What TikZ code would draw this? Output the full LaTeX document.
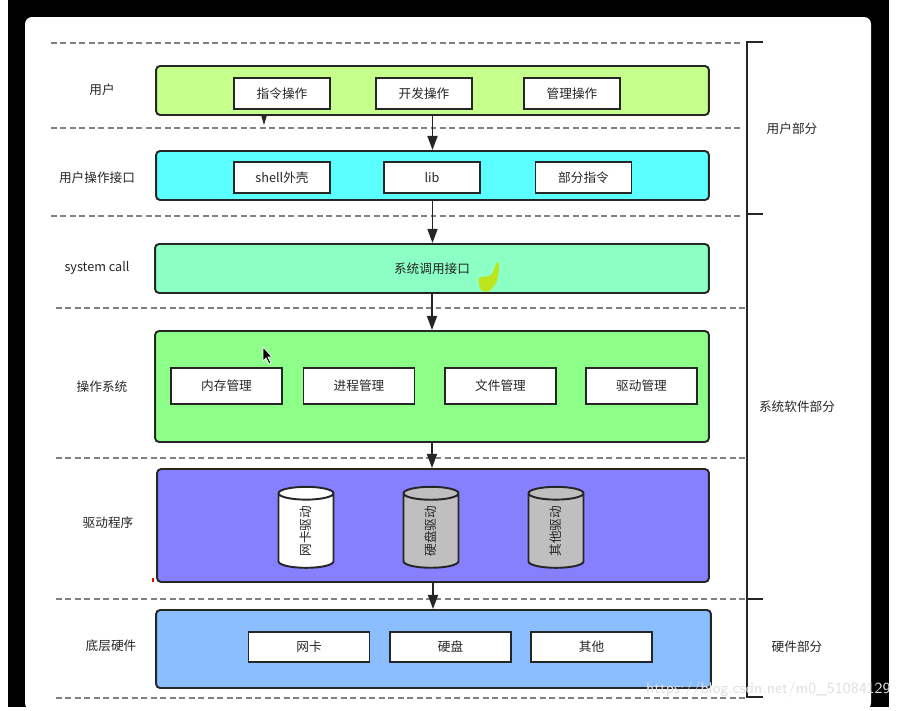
\documentclass[tikz,border=0pt]{standalone}
\usepackage{fontspec}
\newfontfamily\cjk{Noto Sans CJK SC}
\usetikzlibrary{arrows.meta,shapes.geometric}

\definecolor{usrfill}{HTML}{C6FF8C}
\definecolor{apifill}{HTML}{5CFFFF}
\definecolor{callfill}{HTML}{8CFFC4}
\definecolor{osfill}{HTML}{8DFF88}
\definecolor{drvfill}{HTML}{8680FF}
\definecolor{hwfill}{HTML}{8ABEFF}
\definecolor{inkline}{HTML}{262626}
\definecolor{scribble}{HTML}{BDE51E}

\begin{document}
\begin{tikzpicture}[x=0.02cm, y=-0.02cm,
    font=\cjk\fontsize{7.2}{9}\selectfont,
    layer/.style={rectangle, draw=inkline, line width=1.1pt, rounded corners=2.3pt, inner sep=0pt},
    item/.style={rectangle, draw=inkline, fill=white, line width=1.1pt, inner sep=0pt,
                 minimum width=1.92cm, minimum height=0.62cm, text=inkline},
    drum/.style={cylinder, rotate=90, draw=inkline, line width=1.1pt, aspect=1.1,
                 minimum width=1.1cm, minimum height=1.62cm, inner sep=0pt, text=inkline},
    flow/.style={draw=inkline, line width=1.1pt, -{Triangle[length=8pt,width=5.6pt]}},
    sep/.style={draw=black!50, line width=0.6pt, dash pattern=on 3.4pt off 2pt},
    tag/.style={text=inkline}
]
    % screenshot frame
    \useasboundingbox (0,0) rectangle (898,710);
    \fill[white] (0,0) rectangle (898,710);
    \fill[black] (8,0) rectangle (889,707);
    \fill[white, rounded corners=4pt] (25,710) -- (25,17) -- (871,17) -- (871,710) -- cycle;

    % layer separators
    \foreach \yy in {43,128,216} \draw[sep] (51,\yy) -- (742,\yy);
    \foreach \yy in {308,458,599,698} \draw[sep] (56,\yy) -- (745,\yy);

    % layers
    \node[layer, fill=usrfill, minimum width=11.06cm, minimum height=0.98cm] (usr) at (432.5,90.5) {};
    \node[layer, fill=apifill, minimum width=11.06cm, minimum height=0.98cm] (api) at (432.5,175.5) {};
    \node[layer, fill=callfill, minimum width=11.08cm, minimum height=0.98cm, text=inkline] (call) at (432,268.5) {系统调用接口};
    \node[layer, fill=osfill, minimum width=11.08cm, minimum height=2.22cm] (os) at (432,386.5) {};
    \node[layer, fill=drvfill, minimum width=11.04cm, minimum height=2.26cm] (drv) at (433,525.5) {};
    \node[layer, fill=hwfill, minimum width=11.1cm, minimum height=1.56cm] (hw) at (433.5,649) {};

    % row 1 and 2
    \node[item] (cmd) at (282,93.5) {指令操作};
    \node[item] (dev) at (424,93.5) {开发操作};
    \node[item] (mgr) at (572,93.5) {管理操作};
    \node[item] (shell) at (282,177.5) {shell外壳};
    \node[item] (lib) at (432,177.5) {lib};
    \node[item] (part) at (583.5,177.5) {部分指令};

    % operating system
    \node[item, minimum width=2.22cm, minimum height=0.72cm] (mem) at (226.5,386) {内存管理};
    \node[item, minimum width=2.22cm, minimum height=0.72cm] (proc) at (359,386) {进程管理};
    \node[item, minimum width=2.22cm, minimum height=0.72cm] (file) at (500.5,386) {文件管理};
    \node[item, minimum width=2.22cm, minimum height=0.72cm] (dmgr) at (641.5,386) {驱动管理};

    % drivers
    \node[drum, fill=white] (nicdrv) at (306,531) {网卡驱动};
    \node[drum, fill=black!25] (diskdrv) at (431,531) {硬盘驱动};
    \node[drum, fill=black!25] (otherdrv) at (556,531) {其他驱动};

    % hardware
    \node[item, minimum width=2.42cm, minimum height=0.6cm] (nic) at (309,647) {网卡};
    \node[item, minimum width=2.42cm, minimum height=0.6cm] (disk) at (450.5,647) {硬盘};
    \node[item, minimum width=2.42cm, minimum height=0.6cm] (other) at (591.5,647) {其他};

    % arrows between layers
    \draw[flow] (usr.south) -- (api.north);
    \draw[flow] (api.south) -- (api.south |- call.north);
    \draw[flow] (call.south) -- (call.south |- os.north);
    \draw[flow] (os.south) -- (os.south |- drv.north);
    \draw[flow] (drv.south) -- (drv.south |- hw.north);
    \fill[inkline] (261,115) -- (267,115) -- (264,125) -- cycle;

    % row labels
    \node[tag] (l1) at (102,90) {用户};
    \node[tag] (l2) at (97,178) {用户操作接口};
    \node[tag] (l3) at (97,268) {system call};
    \node[tag] (l4) at (102,387) {操作系统};
    \node[tag] (l5) at (108,523) {驱动程序};
    \node[tag] (l6) at (111,646) {底层硬件};

    % bracket on the right
    \draw[inkline, line width=1.1pt] (763,42) -- (747,42) -- (747,697) -- (763,697);
    \draw[inkline, line width=1.1pt] (747,214) -- (763,214);
    \draw[inkline, line width=1.1pt] (747,599) -- (763,599);
    \node[tag] (g1) at (792,129) {用户部分};
    \node[tag] (g2) at (797,407) {系统软件部分};
    \node[tag] (g3) at (797,647) {硬件部分};

    % marks left on the screenshot
    \fill[scribble] plot[smooth cycle] coordinates {(497,262) (491,275) (479,278) (481,290) (489,291) (497,281) (499,266)};
    \draw[white, line width=0.4pt, fill=black] (263,347) -- (263,361) -- (266,358) -- (269,364) -- (271,363) -- (268,357) -- (272,357) -- cycle;
    \draw[red, line width=0.6pt] (153,578) -- (153,582);
    \node[anchor=west, text=black!12, font=\sffamily\fontsize{8.8}{10}\selectfont] (wm) at (640,690) {https://blog.csdn.net/m0\_51084129};
\end{tikzpicture}
\end{document}
